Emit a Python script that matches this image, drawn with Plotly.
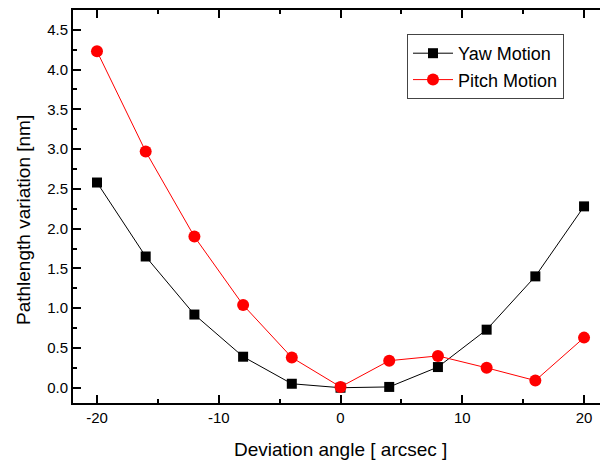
import plotly.graph_objects as go

angles = [-20, -16, -12, -8, -4, 0, 4, 8, 12, 16, 20]
yaw = [2.58, 1.65, 0.92, 0.39, 0.05, 0.00, 0.01, 0.26, 0.73, 1.40, 2.28]
pitch = [4.23, 2.97, 1.90, 1.04, 0.38, 0.01, 0.34, 0.40, 0.25, 0.09, 0.63]

x_tickvals = [-20, -10, 0, 10, 20]
x_ticktext = ["-20", "-10", "0", "10", "20"]
y_tickvals = [0.0, 0.5, 1.0, 1.5, 2.0, 2.5, 3.0, 3.5, 4.0, 4.5]
y_ticktext = ["0.0", "0.5", "1.0", "1.5", "2.0", "2.5", "3.0", "3.5", "4.0", "4.5"]

font = "Liberation Sans, Arial, sans-serif"

L, R, T, B = 73, 0, 10, 58
W, H = 600, 461
pw, ph = W - L - R, H - T - B

fig = go.Figure()
fig.add_trace(go.Scatter(x=angles, y=yaw, mode="lines+markers", name="Yaw Motion",
                         line=dict(color="black", width=1),
                         marker=dict(symbol="square", size=10, color="black")))
fig.add_trace(go.Scatter(x=angles, y=pitch, mode="lines+markers", name="Pitch Motion",
                         line=dict(color="red", width=1),
                         marker=dict(symbol="circle", size=12, color="red")))

fig.update_layout(
    width=W, height=H,
    margin=dict(l=L, r=R, t=T, b=B, autoexpand=False),
    paper_bgcolor="white", plot_bgcolor="white",
    font=dict(family=font, color="black"),
    showlegend=True,
    legend=dict(x=(407 - L) / pw, y=(T + ph - 34) / ph, xanchor="left", yanchor="top",
                bgcolor="white", bordercolor="#444", borderwidth=1,
                font=dict(size=18, family=font), tracegroupgap=0,
                itemwidth=40),
    xaxis=dict(range=[-21.97, 21.31], tickvals=x_tickvals, ticktext=x_ticktext,
               automargin=False,
               showline=True, linecolor="black", linewidth=2,
               mirror="ticks", ticks="inside", ticklen=8, tickwidth=1.5, tickcolor="black",
               minor=dict(dtick=5, tick0=0, ticks="inside", ticklen=4, tickwidth=1.5, tickcolor="black"),
               showgrid=False, zeroline=False,
               tickfont=dict(size=15)),
    yaxis=dict(range=[-0.192, 4.749], tickvals=y_tickvals, ticktext=y_ticktext,
               automargin=False,
               showline=True, linecolor="black", linewidth=2,
               mirror=False, ticks="inside", ticklen=8, tickwidth=1.5, tickcolor="black",
               minor=dict(dtick=0.25, tick0=0, ticks="inside", ticklen=4, tickwidth=1.5, tickcolor="black"),
               showgrid=False, zeroline=False,
               tickfont=dict(size=15)),
    annotations=[
        dict(text="Deviation angle [ arcsec ]", xref="paper", yref="paper",
             x=(340 - L) / pw, y=(T + ph - 449) / ph, xanchor="center", yanchor="middle",
             showarrow=False, font=dict(size=19, family=font)),
        dict(text="Pathlength variation [nm]", xref="paper", yref="paper",
             x=(23 - L) / pw, y=(T + ph - 220) / ph, xanchor="center", yanchor="middle",
             textangle=-90, showarrow=False, font=dict(size=19, family=font)),
    ],
)

fig.write_html("out.html", config={"displayModeBar": False},
               post_script="document.body.style.margin='0';document.body.style.overflow='hidden';")
